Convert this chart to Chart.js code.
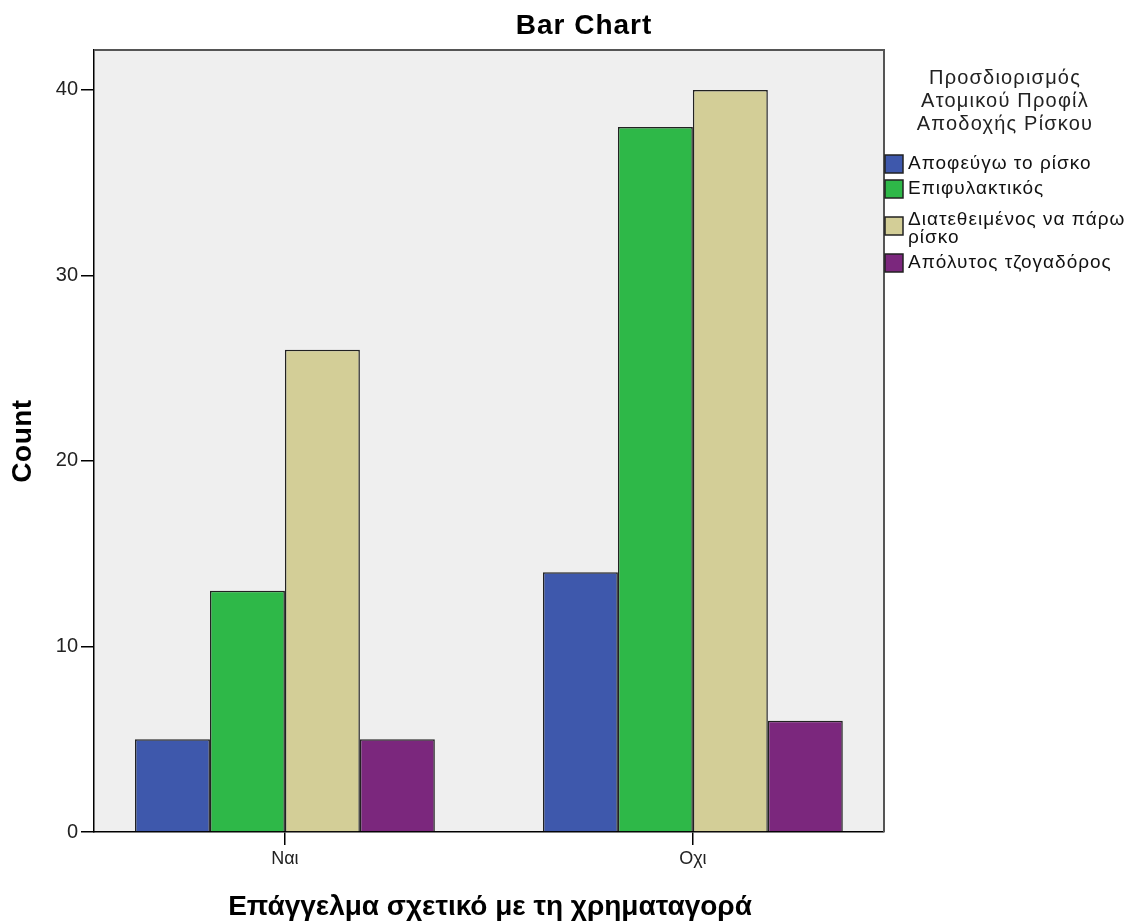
<!DOCTYPE html>
<html>
<head>
<meta charset="utf-8">
<script src="https://cdn.jsdelivr.net/npm/chart.js@4"></script>
<style>
  body { margin:0; background:#fff; }
  #wrap { width:1129px; height:921px; position:relative; }
</style>
</head>
<body>
<div id="wrap"><canvas id="barChart"></canvas></div>
<script>
/* ===== DATA ===== */
const categories = ["Ναι", "Οχι"];
const seriesNames = ["Αποφεύγω το ρίσκο", "Επιφυλακτικός", "Διατεθειμένος να πάρω ρίσκο", "Απόλυτος τζογαδόρος"];
const avoidRisk = [5, 14];
const cautious = [13, 38];
const willingRisk = [26, 40];
const gambler = [5, 6];
const yTicks = [0, 10, 20, 30, 40];

const colors = ["#3e58ac", "#2eb848", "#d3ce97", "#7b277d"];
const legendTitle = ["Προσδιορισμός", "Ατομικού Προφίλ", "Αποδοχής Ρίσκου"];
const legendLines = [["Αποφεύγω το ρίσκο"], ["Επιφυλακτικός"], ["Διατεθειμένος να πάρω", "ρίσκο"], ["Απόλυτος τζογαδόρος"]];

const FONT = "'Liberation Sans', Arial, sans-serif";

/* ===== PLUGINS ===== */
const plotBg = {
  id: "plotBg",
  beforeDraw(chart) {
    const {ctx, chartArea: a} = chart;
    ctx.save();
    ctx.fillStyle = "#efefef";
    ctx.fillRect(a.left, a.top, a.right - a.left, a.bottom - a.top);
    ctx.restore();
  },
  afterDatasetsDraw(chart) {
    const {ctx, chartArea: a} = chart;
    ctx.save();
    ctx.strokeStyle = "#555";
    ctx.lineWidth = 2;
    ctx.beginPath();
    ctx.moveTo(a.left, a.top); ctx.lineTo(a.right, a.top); ctx.lineTo(a.right, a.bottom);
    ctx.stroke();
    ctx.restore();
  }
};

const texts = {
  id: "texts",
  afterDraw(chart) {
    const ctx = chart.ctx;
    ctx.save();
    ctx.fillStyle = "#000";
    ctx.textAlign = "center";
    ctx.textBaseline = "middle";
    ctx.letterSpacing = "1px";
    ctx.font = "bold 28px " + FONT;
    ctx.fillText("Bar Chart", 584, 26);
    ctx.letterSpacing = "0.5px";
    ctx.save();
    ctx.translate(23, 441);
    ctx.rotate(-Math.PI / 2);
    ctx.fillText("Count", 0, 0);
    ctx.restore();
    ctx.letterSpacing = "0px";
    ctx.textBaseline = "alphabetic";
    ctx.fillText("Επάγγελμα σχετικό με τη χρηματαγορά", 490, 915);

    // legend
    ctx.textBaseline = "middle";
    ctx.fillStyle = "#222";
    ctx.letterSpacing = "1.2px";
    ctx.font = "20px " + FONT;
    legendTitle.forEach((t, i) => ctx.fillText(t, 1005, 78 + i * 23));
    ctx.textAlign = "left";
    ctx.letterSpacing = "1px";
    ctx.font = "19px " + FONT;
    const itemY = [164, 189, 226, 263];
    chart.data.datasets.forEach((ds, i) => {
      const y = itemY[i];
      ctx.fillStyle = ds.backgroundColor;
      ctx.fillRect(885, y - 9, 18, 18);
      ctx.strokeStyle = "#222";
      ctx.lineWidth = 1.5;
      ctx.strokeRect(885, y - 9, 18, 18);
      ctx.fillStyle = "#111";
      const lines = legendLines[i];
      const off = lines.length > 1 ? -6 : 0;
      lines.forEach((l, k) => ctx.fillText(l, 908, y + off + k * 18));
    });
    ctx.restore();
  }
};

/* ===== CHART ===== */
const seriesData = [avoidRisk, cautious, willingRisk, gambler];

new Chart(document.getElementById("barChart"), {
  type: "bar",
  data: {
    labels: categories,
    datasets: seriesData.map((d, i) => ({
      label: seriesNames[i],
      data: d,
      backgroundColor: colors[i],
      borderColor: "#222",
      borderWidth: 1.5
    }))
  },
  options: {
    responsive: true,
    maintainAspectRatio: false,
    animation: false,
    layout: { padding: { left: 0, top: 50, right: 245, bottom: 0 } },
    datasets: { bar: { categoryPercentage: 0.735, barPercentage: 1 } },
    plugins: {
      legend: { display: false },
      title: { display: false },
      tooltip: { enabled: false }
    },
    scales: {
      x: {
        offset: true,
        grid: { display: true, drawOnChartArea: false, offset: false, tickLength: 13, color: "#000", lineWidth: 1.5 },
        border: { display: true, color: "#000", width: 1.5 },
        ticks: { color: "#222", font: { family: FONT, size: 18 }, padding: 3 },
        afterFit(s) { s.height = 89; },
        // SPSS puts the two groups slightly wider apart than an even split
        afterUpdate(s) { s._startValue = -0.468; s._valueRange = 1.9365; }
      },
      y: {
        min: 0,
        max: 42.15,
        grid: { display: true, drawOnChartArea: false, tickLength: 13, color: "#000", lineWidth: 1.5 },
        border: { display: true, color: "#000", width: 1.5 },
        ticks: { stepSize: 10, color: "#222", font: { family: FONT, size: 20 }, padding: 3 },
        afterBuildTicks(s) { s.ticks = yTicks.map(v => ({ value: v })); },
        afterFit(s) { s.width = 94; }
      }
    }
  },
  plugins: [plotBg, texts]
});
</script>
</body>
</html>
